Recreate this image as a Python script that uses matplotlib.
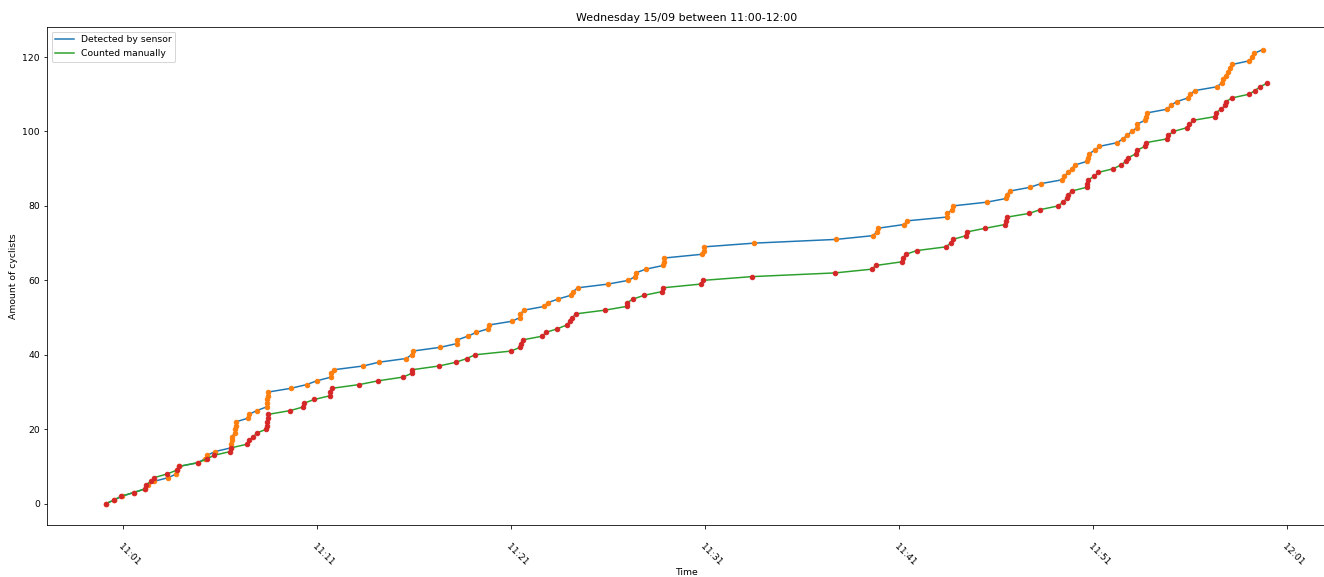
import matplotlib
matplotlib.use("Agg")
import matplotlib.pyplot as plt
import matplotlib.dates as mdates
import matplotlib.transforms as mtransforms
import pandas as pd
import numpy as np

# minutes after 11:00 at which each cyclist was registered (cumulative count = index)
sensor_minutes = [
    0.12, 0.54, 0.95, 1.55, 2.15, 2.3, 2.6, 3.33, 3.75, 3.8,
    3.87, 4.85, 5.2, 5.34, 5.74, 6.57, 6.58, 6.6, 6.62, 6.75,
    6.78, 6.8, 6.82, 7.46, 7.49, 7.89, 8.4, 8.42, 8.44, 8.46,
    8.49, 9.66, 10.47, 10.98, 11.72, 11.74, 11.89, 13.39, 14.18, 15.59,
    15.88, 15.93, 17.34, 18.2, 18.23, 18.77, 19.2, 19.83, 19.85, 21.04,
    21.46, 21.48, 21.67, 22.72, 22.89, 23.44, 24.09, 24.21, 24.44, 26.0,
    27.05, 27.39, 27.43, 27.94, 28.85, 28.87, 28.89, 30.83, 30.93, 30.95,
    33.53, 37.75, 39.64, 39.88, 39.9, 41.26, 41.43, 43.46, 43.49, 43.75,
    43.77, 45.52, 46.52, 46.55, 46.72, 47.75, 48.32, 49.39, 49.5, 49.73,
    49.9, 50.07, 50.71, 50.76, 50.79, 51.1, 51.33, 52.25, 52.53, 52.77,
    53.0, 53.25, 53.28, 53.68, 53.73, 53.8, 54.83, 55.0, 55.31, 55.88,
    56.0, 56.26, 57.38, 57.63, 57.68, 57.86, 57.97, 58.06, 58.18, 59.06,
    59.18, 59.32, 59.75,
]

manual_minutes = [
    0.12, 0.54, 0.9, 1.55, 2.15, 2.17, 2.44, 2.61, 3.28, 3.77,
    3.87, 4.85, 5.31, 5.69, 6.52, 6.57, 7.41, 7.51, 7.72, 7.89,
    8.39, 8.4, 8.42, 8.46, 8.49, 9.61, 10.29, 10.33, 10.86, 11.67,
    11.69, 11.77, 13.18, 14.14, 15.42, 15.88, 15.92, 17.3, 18.16, 18.72,
    19.14, 21.0, 21.46, 21.5, 21.6, 22.61, 22.79, 23.39, 23.87, 24.03,
    24.16, 24.34, 25.85, 26.96, 26.98, 27.3, 27.87, 28.8, 28.82, 30.78,
    30.91, 33.41, 37.7, 39.59, 39.81, 41.17, 41.19, 41.36, 41.91, 43.42,
    43.66, 43.77, 44.45, 44.49, 45.45, 46.46, 46.52, 46.58, 47.72, 48.27,
    49.21, 49.44, 49.64, 49.73, 49.9, 50.67, 50.7, 50.76, 51.07, 51.27,
    52.05, 52.44, 52.7, 52.82, 53.22, 53.28, 53.68, 53.73, 54.8, 54.88,
    55.14, 55.83, 55.97, 56.17, 57.29, 57.33, 57.6, 57.81, 57.86, 58.15,
    59.04, 59.35, 59.61, 59.98,
]

plt.rcParams["font.size"] = 9.2

start = pd.Timestamp("2021-09-15 11:00:00")
sensor_time = start + pd.to_timedelta(sensor_minutes, unit="m")
manual_time = start + pd.to_timedelta(manual_minutes, unit="m")
sensor_count = np.arange(len(sensor_minutes))
manual_count = np.arange(len(manual_minutes))

fig = plt.figure(figsize=(1324 / 72, 577 / 72), dpi=72)
ax = fig.add_axes([47 / 1324, 52 / 577, 1279 / 1324, 498 / 577])

ax.plot(sensor_time, sensor_count, color="C0", label="Detected by sensor")
ax.plot(sensor_time, sensor_count, "o", color="C1", markersize=4.5)
ax.plot(manual_time, manual_count, color="C2", label="Counted manually")
ax.plot(manual_time, manual_count, "o", color="C3", markersize=4.5)

ax.set_xlim(start + pd.Timedelta(minutes=-2.92), start + pd.Timedelta(minutes=63.01))
ax.set_ylim(-5.73, 128.07)
ax.xaxis.set_major_locator(mdates.MinuteLocator(byminute=[1, 11, 21, 31, 41, 51]))
ax.xaxis.set_major_formatter(mdates.DateFormatter("%H:%M"))

ax.set_title("Wednesday 15/09 between 11:00-12:00")
ax.set_xlabel("Time", labelpad=0.5)
ax.set_ylabel("Amount of cyclists")
ax.legend(loc="upper left")

# rotated time labels sit a bit lower and to the right of their ticks
fig.canvas.draw()
shift = mtransforms.ScaledTranslation(6 / 72, -10 / 72, fig.dpi_scale_trans)
for lab in ax.get_xticklabels():
    lab.set_rotation(-45)
    lab.set_transform(lab.get_transform() + shift)

fig.savefig("out.png", dpi=72)
